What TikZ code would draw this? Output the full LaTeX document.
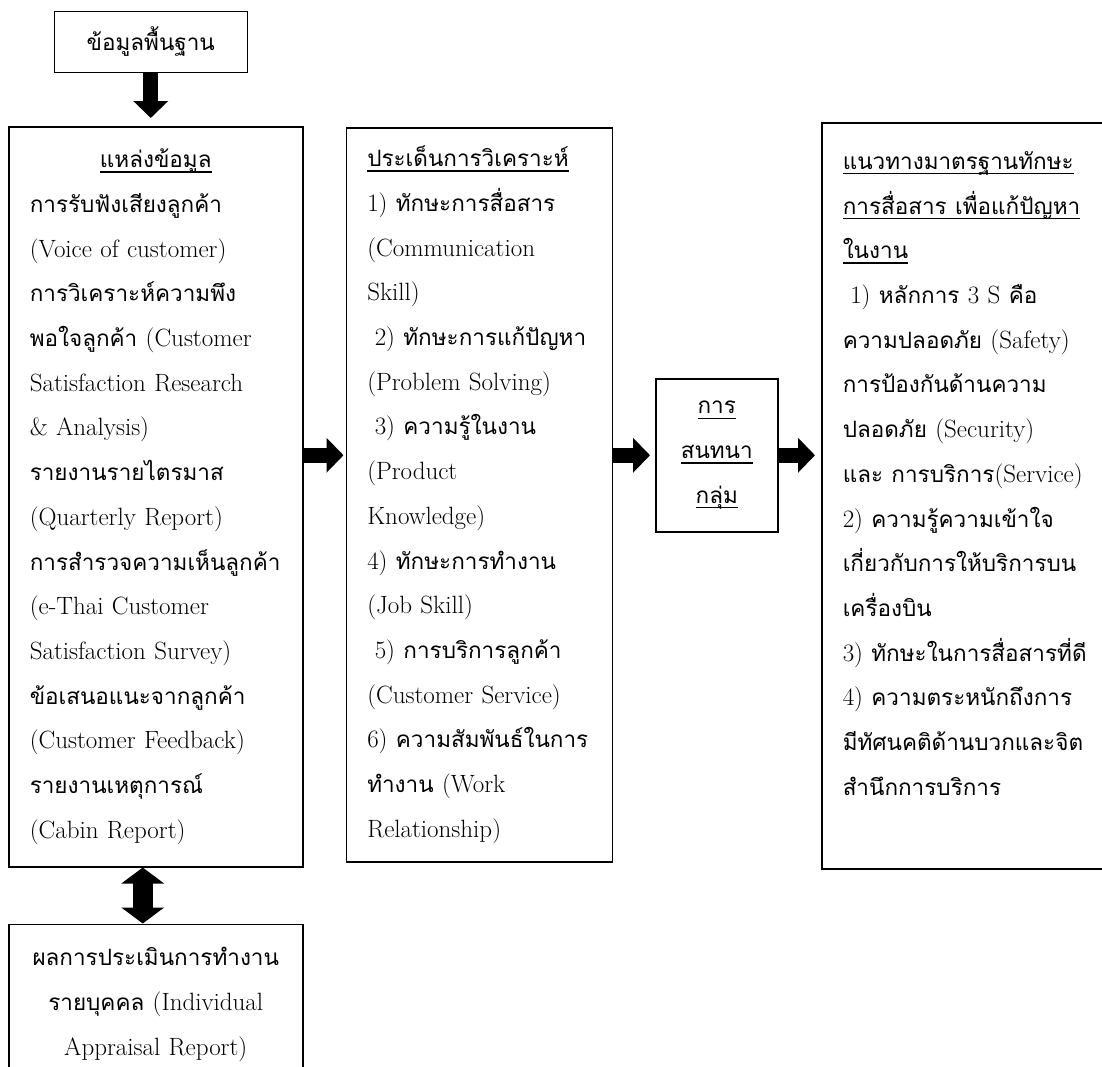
\documentclass[tikz,border=0pt]{standalone}
\usepackage{fontspec}
\newfontfamily\thaifont[Script=Thai,Scale=0.9]{Loma}
\usepackage{tikz}
\usetikzlibrary{positioning,arrows.meta}
\newcommand{\thai}[1]{{\thaifont #1}}
\newcommand{\undl}[1]{\leavevmode\setbox0=\hbox{#1}\rlap{\rule[-5pt]{\wd0}{1.4pt}}\box0}

\begin{document}
\begin{tikzpicture}[x=1pt,y=-1pt,
  box/.style={draw,line width=1.5pt,inner xsep=21pt,inner ysep=0pt,
    font=\fontsize{25}{44.7}\selectfont},
  bigarrow/.style={line width=15pt,-{Triangle[width=34pt,length=17pt]}},
  dblarrow/.style={line width=20pt,{Triangle[width=42pt,length=16pt]}-{Triangle[width=42pt,length=16pt]}}]
  \useasboundingbox (0,0) rectangle (1102,1066);
  \clip (0,0) rectangle (1102,1066);
  \node[box,align=left,text width=252pt,minimum height=740pt,anchor=north west] (src) at (8,126) {%
    \makebox[\linewidth]{\undl{\thai{แหล่งข้อมูล}}}\\
    \thai{การรับฟังเสียงลูกค้า}\\
    (Voice~of~customer)\\
    \thai{การวิเคราะห์ความพึง}\\
    \thai{พอใจลูกค้า}~(Customer\\
    Satisfaction~Research\\
    \&~Analysis)\\
    \thai{รายงานรายไตรมาส}\\
    (Quarterly~Report)\\
    \thai{การสำรวจความเห็นลูกค้า}\\
    (e-Thai~Customer\\
    Satisfaction~Survey)\\
    \thai{ข้อเสนอแนะจากลูกค้า}\\
    (Customer~Feedback)\\
    \thai{รายงานเหตุการณ์}\\
    (Cabin~Report)};
  \node[box,align=center,text width=151pt,minimum height=61pt] (base) [above=53pt of src.north,xshift=-5pt] {\thai{ข้อมูลพื้นฐาน}};
  \node[box,align=center,text width=252pt,minimum height=160pt] (appr) [below=56pt of src.south] {%
    \thai{ผลการประเมินการทำงาน}\\
    \thai{รายบุคคล}~(Individual\\
    Appraisal~Report)};
  \node[box,align=left,text width=224pt,minimum height=734pt] (issue) [right=42pt of src.north east,anchor=north west,yshift=-1pt] {%
    \undl{\thai{ประเด็นการวิเคราะห์}}\\
    1)~\thai{ทักษะการสื่อสาร}\\
    (Communication\\
    Skill)\\
    \hspace*{.3em}2)~\thai{ทักษะการแก้ปัญหา}\\
    (Problem~Solving)\\
    \hspace*{.3em}3)~\thai{ความรู้ในงาน}\\
    (Product\\
    Knowledge)\\
    4)~\thai{ทักษะการทำงาน}\\
    (Job~Skill)\\
    \hspace*{.3em}5)~\thai{การบริการลูกค้า}\\
    (Customer~Service)\\
    6)~\thai{ความสัมพันธ์ในการ}\\
    \thai{ทำงาน}~(Work\\
    Relationship)};
  \node[box,align=center,text width=80pt,minimum height=153pt,anchor=north west] (talk) at (655,378) {%
    \undl{\thai{การ}}\\
    \undl{\thai{สนทนา}}\\
    \undl{\thai{กลุ่ม}}};
  \node[box,align=left,text width=290pt,minimum height=746pt,anchor=north west] (guide) at (821,122) {%
    \undl{\thai{แนวทางมาตรฐานทักษะ}}\\
    \undl{\thai{การสื่อสาร เพื่อแก้ปัญหา}}\\
    \undl{\thai{ในงาน}}\\
    \hspace*{.3em}1)~\thai{หลักการ}~3~S~\thai{คือ}\\
    \thai{ความปลอดภัย}~(Safety)\\
    \thai{การป้องกันด้านความ}\\
    \thai{ปลอดภัย}~(Security)\\
    \thai{และ}~\thai{การบริการ}(Service)\\
    2)~\thai{ความรู้ความเข้าใจ}\\
    \thai{เกี่ยวกับการให้บริการบน}\\
    \thai{เครื่องบิน}\\
    3)~\thai{ทักษะในการสื่อสารที่ดี}\\
    4)~\thai{ความตระหนักถึงการ}\\
    \thai{มีทัศนคติด้านบวกและจิต}\\
    \thai{สำนึกการบริการ}\\
    \mbox{}};
  % block arrows
  \draw[bigarrow,shorten >=8pt] (base.south) -- (base.south |- src.north);
  \draw[bigarrow,shorten >=2pt] (src.east |- talk.west) -- (issue.west |- talk.west);
  \draw[bigarrow,shorten >=5pt] (issue.east |- talk.west) -- (talk.west);
  \draw[bigarrow,shorten >=6pt] (talk.east) -- (talk.east -| guide.west);
  \draw[dblarrow] ([xshift=-13pt]src.south) -- ([xshift=-13pt]appr.north);
\end{tikzpicture}
\end{document}
